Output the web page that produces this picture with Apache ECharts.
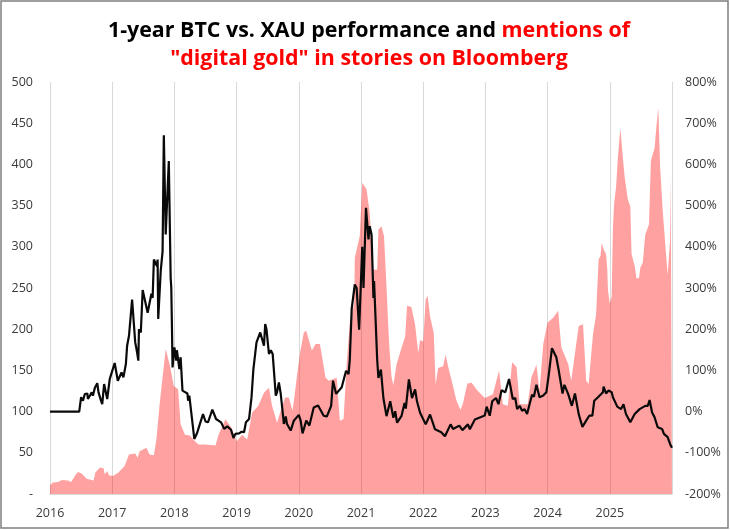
<!DOCTYPE html>
<html>
<head>
<meta charset="utf-8">
<script src="https://cdn.jsdelivr.net/npm/echarts@6/dist/echarts.min.js"></script>
<style>
html, body { margin: 0; padding: 0; background: #fff; }
#chart { width: 730px; height: 530px; }
</style>
</head>
<body>
<div id="chart"></div>
<script>
// mentions of "digital gold"
const mentionYears = [
    2016.00, 2016.05, 2016.13, 2016.19, 2016.29, 2016.34, 2016.40, 2016.45, 2016.51, 2016.59, 2016.70, 2016.73, 2016.80, 2016.86, 2016.88, 2016.92, 2016.95,
    2017.02, 2017.10, 2017.20, 2017.27, 2017.37, 2017.41, 2017.44, 2017.55, 2017.60, 2017.67, 2017.71, 2017.76, 2017.80, 2017.86, 2017.93, 2017.99,
    2018.06, 2018.10, 2018.17, 2018.25, 2018.33, 2018.39, 2018.49, 2018.66, 2018.71, 2018.82, 2018.92,
    2019.00, 2019.09, 2019.17, 2019.25, 2019.35, 2019.44, 2019.52, 2019.57, 2019.65, 2019.70, 2019.78, 2019.84, 2019.90, 2019.97,
    2020.02, 2020.08, 2020.12, 2020.21, 2020.27, 2020.34, 2020.43, 2020.48, 2020.61, 2020.66, 2020.72, 2020.77, 2020.82, 2020.89, 2020.90, 2020.98,
    2021.02, 2021.09, 2021.14, 2021.20, 2021.26, 2021.28, 2021.33, 2021.37, 2021.41, 2021.45, 2021.49, 2021.52, 2021.57, 2021.65, 2021.71, 2021.74, 2021.81, 2021.87, 2021.92, 2021.95,
    2022.00, 2022.04, 2022.07, 2022.11, 2022.17, 2022.20, 2022.24, 2022.32, 2022.36, 2022.40, 2022.48, 2022.53, 2022.60, 2022.64, 2022.71, 2022.78, 2022.86, 2022.99,
    2023.12, 2023.22, 2023.28, 2023.36, 2023.43, 2023.50, 2023.55, 2023.68, 2023.74, 2023.82, 2023.87, 2023.93,
    2024.00, 2024.09, 2024.17, 2024.22, 2024.33, 2024.38, 2024.46, 2024.50, 2024.57, 2024.62, 2024.66, 2024.73, 2024.78, 2024.82, 2024.85, 2024.87, 2024.90, 2024.94, 2024.96, 2024.97,
    2025.00, 2025.03, 2025.05, 2025.07, 2025.10, 2025.13, 2025.16, 2025.17, 2025.19, 2025.21, 2025.24, 2025.29, 2025.33, 2025.35, 2025.40, 2025.43, 2025.47, 2025.49, 2025.53, 2025.57, 2025.63, 2025.66, 2025.72, 2025.75, 2025.78, 2025.80, 2025.81, 2025.85, 2025.89, 2025.93, 2025.96, 2025.97, 2025.98, 2026.00
];
const mentionValues = [
    11, 14, 14.5, 17, 16.5, 14.5, 22, 26.7, 25, 18.6, 16.5, 26, 32, 31.5, 24, 28, 22.6,
    22, 26, 34, 48, 49, 44, 52, 56, 48, 47, 66, 107, 135, 176, 155, 131,
    127, 84.5, 72, 71, 64, 60, 60, 59, 72, 90.6, 80,
    64, 72, 66, 99, 107, 123, 129, 107, 86.5, 99, 117, 117, 101, 143,
    171.5, 196, 198, 174, 182, 182, 141.5, 137.5, 141, 89, 91, 158, 208, 230, 286.6, 313,
    377.6, 369.5, 341, 272, 272, 321, 325, 313, 252, 185, 143, 132, 157, 177, 191, 228.6, 227, 205.5, 171, 187,
    185, 236, 240.7, 215.6, 195, 132.7, 153, 155, 169, 155, 130.7, 114.5, 102, 110, 134, 135, 126.6, 116.5,
    121, 150, 109, 107, 160, 154, 109, 109, 141.6, 157, 125, 182,
    208, 214, 222.5, 178, 158, 137.5, 182, 204, 206, 137.5, 133.5, 194, 218, 284.6, 288.7, 305, 297, 291, 272.5, 248,
    231, 240, 323, 353, 371.6, 408, 436, 444, 444, 408, 384, 357.5, 349, 291, 276.6, 261.6, 262, 274.5, 280.6, 315, 327, 404, 420, 446.4, 468.7, 468.7, 396, 345, 305, 266, 265.6, 309, 387.8, 387.8
];

// 1-year BTC vs. XAU performance (%)
const perfYears = [
    2016.00, 2016.47, 2016.50, 2016.53, 2016.56, 2016.60, 2016.61, 2016.65, 2016.67, 2016.69, 2016.72, 2016.76, 2016.78, 2016.82, 2016.84, 2016.87, 2016.92, 2016.96, 2016.99,
    2017.04, 2017.07, 2017.09, 2017.15, 2017.18, 2017.22, 2017.24, 2017.27, 2017.32, 2017.37, 2017.40, 2017.42, 2017.43, 2017.46, 2017.49, 2017.57, 2017.63, 2017.65, 2017.67, 2017.70, 2017.72, 2017.73, 2017.74, 2017.78, 2017.81, 2017.83, 2017.86, 2017.91, 2017.94, 2017.95, 2017.96, 2017.97,
    2018.00, 2018.03, 2018.04, 2018.08, 2018.10, 2018.13, 2018.21, 2018.22, 2018.24, 2018.32, 2018.36, 2018.39, 2018.46, 2018.50, 2018.54, 2018.61, 2018.67, 2018.75, 2018.80, 2018.85, 2018.91, 2018.95, 2018.98,
    2019.04, 2019.08, 2019.12, 2019.15, 2019.20, 2019.24, 2019.27, 2019.29, 2019.32, 2019.38, 2019.41, 2019.44, 2019.46, 2019.48, 2019.52, 2019.55, 2019.58, 2019.63, 2019.65, 2019.68, 2019.71, 2019.76, 2019.79, 2019.81, 2019.87, 2019.92,
    2020.00, 2020.03, 2020.06, 2020.12, 2020.17, 2020.24, 2020.31, 2020.40, 2020.45, 2020.52, 2020.55, 2020.60, 2020.69, 2020.72, 2020.76, 2020.80, 2020.82, 2020.85, 2020.90, 2020.93, 2020.97,
    2021.02, 2021.04, 2021.08, 2021.12, 2021.14, 2021.17, 2021.20, 2021.21, 2021.26, 2021.28, 2021.32, 2021.36, 2021.41, 2021.47, 2021.52, 2021.55, 2021.58, 2021.65, 2021.70, 2021.72, 2021.77, 2021.82, 2021.87, 2021.90, 2021.95,
    2022.04, 2022.11, 2022.19, 2022.29, 2022.35, 2022.44, 2022.48, 2022.58, 2022.63, 2022.72, 2022.75, 2022.83, 2022.86, 2022.99,
    2023.02, 2023.07, 2023.11, 2023.17, 2023.21, 2023.26, 2023.32, 2023.38, 2023.41, 2023.44, 2023.48, 2023.51, 2023.55, 2023.59, 2023.63, 2023.67, 2023.71, 2023.75, 2023.78, 2023.82, 2023.87, 2023.93, 2023.98,
    2024.02, 2024.07, 2024.14, 2024.18, 2024.24, 2024.27, 2024.33, 2024.39, 2024.44, 2024.50, 2024.53, 2024.56, 2024.62, 2024.67, 2024.72, 2024.75, 2024.81, 2024.89, 2024.90, 2024.94, 2024.98,
    2025.03, 2025.05, 2025.12, 2025.18, 2025.22, 2025.26, 2025.33, 2025.40, 2025.42, 2025.48, 2025.51, 2025.57, 2025.61, 2025.64, 2025.68, 2025.72, 2025.77, 2025.84, 2025.87, 2025.89, 2025.93, 2025.97, 2026.00
];
const perfValues = [
    0, 0, 35, 26.5, 42.7, 44, 30.6, 41, 46.7, 38.7, 57, 69, 46.7, 26.5, 18, 67, 30.6, 79, 83,
    118, 115.5, 75, 95, 83, 115.5, 160, 184, 272, 168, 144, 123.6, 200, 192, 295, 240, 286, 276, 369, 371.6, 353, 369, 225, 341, 389, 671, 430, 608, 325, 300, 211, 107,
    156, 123.6, 149, 103, 132, 51, 44, 26.5, 38.7, -66.5, -54, -50, -6, -24, -26, 5, -18, -26, -42, -36, -44, -64, -54,
    -53, -49, -50, -26, -18, 35, 103, 103, 168, 192, 188, 160, 212.6, 200, 140, 149, 140, 38.7, 46.7, 71, 42.7, -30, -12, -30, -46, -22,
    -8, -22, -53, -22, -34, 10, 15, -10, -12, 14, 75, 43, 59, 55, 99, 91, 126.5, 249, 308.5, 300, 199,
    400, 300, 494.6, 418, 450, 430, 276, 316.6, 126.5, 82, 102, 33, -11, 25, -15, 1, -27, -11, 21, 7.5, 78, 33, 54, 25, -3,
    -31, -7, -43, -50, -60, -31, -42, -34, -45, -31, -43, -19, -23, -9.5,
    12, -10, 25, 33, 18, 52, 47, 79, 75, 30.6, 33, 6, 14, 2, 6, -6, 18, 41, 36, 65, 35, 39, 47,
    91, 154, 132, 99, 44, 65, 43, 14, 44, -6, -2, -37, -22, -10, -10, 26.5, 35, 47, 60.5, 44, 51,
    47, 35, 12, 6, 18, -6, -26, -6, -2, 6, 2, 14, 14, 28, -2, -14, -38, -42, -54, -50, -62, -79, -88
];

const toPairs = (xs, ys) => xs.map((x, i) => [x, ys[i]]);

const myChart = echarts.init(document.getElementById('chart'), null, { renderer: 'canvas' });

const labelStyle = {
    color: '#3a3a3a',
    fontFamily: '"Open Sans"',
    fontSize: 12.5
};

myChart.setOption({
    animation: false,
    backgroundColor: '#fff',
    title: {
        left: 364,
        top: 12,
        textAlign: 'center',
        text: '1-year BTC vs. XAU performance and {red|mentions of}\n{red|"digital gold" in stories on Bloomberg}',
        textStyle: {
            color: '#000',
            fontFamily: '"Open Sans"',
            fontWeight: 'bold',
            fontSize: 21.4,
            lineHeight: 28,
            rich: {
                red: {
                    color: '#ff0000',
                    fontFamily: '"Open Sans"',
                    fontWeight: 'bold',
                    fontSize: 21.4,
                    lineHeight: 28
                }
            }
        }
    },
    graphic: [{
        type: 'rect',
        silent: true,
        shape: { x: 1, y: 1, width: 727, height: 527 },
        style: { fill: 'none', stroke: '#7f7f7f', lineWidth: 1.5 }
    }],
    grid: { left: 50, right: 58, top: 82, bottom: 36 },
    xAxis: {
        type: 'value',
        min: 2016,
        max: 2026,
        interval: 1,
        axisTick: { show: false },
        axisLine: { show: true, lineStyle: { color: '#d9d9d9', width: 1 } },
        splitLine: { show: true, lineStyle: { color: '#d9d9d9', width: 1 } },
        axisLabel: {
            ...labelStyle,
            margin: 13,
            showMaxLabel: false,
            formatter: (val) => String(val)
        }
    },
    yAxis: [{
        type: 'value',
        min: 0,
        max: 500,
        interval: 50,
        axisTick: { show: false },
        axisLine: { show: false },
        splitLine: { show: false },
        axisLabel: {
            ...labelStyle,
            margin: 17,
            formatter: (val) => (val === 0 ? '-' : String(val))
        }
    }, {
        type: 'value',
        position: 'right',
        min: -200,
        max: 800,
        interval: 100,
        axisTick: { show: false },
        axisLine: { show: false },
        splitLine: { show: false },
        axisLabel: {
            ...labelStyle,
            margin: 13,
            formatter: '{value}%'
        }
    }],
    series: [{
        name: 'mentions',
        type: 'line',
        yAxisIndex: 0,
        data: toPairs(mentionYears, mentionValues),
        showSymbol: false,
        lineStyle: { width: 0 },
        itemStyle: { color: '#ff0000' },
        areaStyle: { color: '#ff0000', opacity: 0.37 },
        z: 2
    }, {
        name: 'performance',
        type: 'line',
        yAxisIndex: 1,
        data: toPairs(perfYears, perfValues),
        showSymbol: false,
        lineStyle: { color: '#0a0a0a', width: 2.2 },
        itemStyle: { color: '#0a0a0a' },
        z: 3
    }]
});
</script>
</body>
</html>
